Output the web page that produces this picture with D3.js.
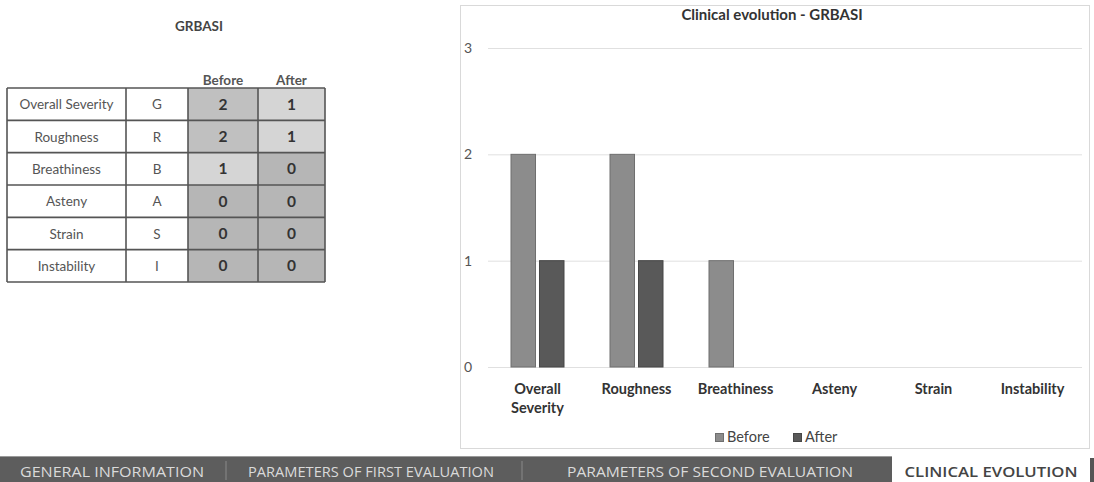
<!DOCTYPE html>
<html><head><meta charset="utf-8">
<script src="https://cdn.jsdelivr.net/npm/d3@7"></script>
<style>
body{margin:0;background:#fff;}
svg{display:block;font-family:Lato,"Open Sans",sans-serif;}
</style></head>
<body><svg id="c" width="1094" height="482"></svg>
<script>
const categories = ["Overall Severity","Roughness","Breathiness","Asteny","Strain","Instability"];
const letters = ["G","R","B","A","S","I"];
const seriesNames = ["Before","After"];
const before = [2,2,1,0,0,0];
const after = [1,1,0,0,0,0];
const yTicks = [0,1,2,3];
const tabs = ["GENERAL INFORMATION","PARAMETERS OF FIRST EVALUATION","PARAMETERS OF SECOND EVALUATION","CLINICAL EVOLUTION"];

const svg = d3.select("#c");

// ---------- Table ----------
svg.append("text").attr("x",199).attr("y",31).attr("text-anchor","middle")
  .attr("font-size",13.5).attr("font-weight","bold").attr("fill","#444").text("GRBASI");
const colX = [7,126,188,258,325];
const rowY = d3.scaleBand().domain(d3.range(categories.length)).range([88,282]);
const cellFill = v => v===2 ? "#c0c0c0" : v===1 ? "#d5d5d5" : "#b6b6b6";
const tg = svg.append("g");
seriesNames.forEach((s,j)=>{
  tg.append("text").attr("x",(colX[2+j]+colX[3+j])/2).attr("y",85).attr("text-anchor","middle")
    .attr("font-size",13.5).attr("font-weight","bold").attr("fill","#555").text(s);
});
categories.forEach((c,i)=>{
  const y = rowY(i), h = rowY.bandwidth();
  const vals = [before[i], after[i]];
  tg.append("rect").attr("x",colX[0]).attr("y",y).attr("width",colX[2]-colX[0]).attr("height",h).attr("fill","#fff");
  vals.forEach((v,j)=>{
    tg.append("rect").attr("x",colX[2+j]).attr("y",y).attr("width",colX[3+j]-colX[2+j]).attr("height",h).attr("fill",cellFill(v));
    tg.append("text").attr("x",(colX[2+j]+colX[3+j])/2).attr("y",y+h/2+5.5).attr("text-anchor","middle")
      .attr("font-size",15.5).attr("font-weight","bold").attr("fill","#333").text(v);
  });
  tg.append("text").attr("x",(colX[0]+colX[1])/2).attr("y",y+h/2+5).attr("text-anchor","middle")
    .attr("font-size",13.5).attr("fill","#555").text(c);
  tg.append("text").attr("x",(colX[1]+colX[2])/2).attr("y",y+h/2+5).attr("text-anchor","middle")
    .attr("font-size",13.5).attr("fill","#555").text(letters[i]);
});
d3.range(categories.length+1).forEach(i=>{
  const y = i<categories.length ? rowY(i) : 282;
  tg.append("line").attr("x1",colX[0]).attr("x2",colX[4]).attr("y1",y).attr("y2",y).attr("stroke","#555").attr("stroke-width",1.6);
});
colX.forEach(x=>{
  tg.append("line").attr("x1",x).attr("x2",x).attr("y1",88).attr("y2",282).attr("stroke","#555").attr("stroke-width",1.6);
});

// ---------- Chart ----------
svg.append("rect").attr("x",460.5).attr("y",5.5).attr("width",629).attr("height",443)
  .attr("fill","#fff").attr("stroke","#d9d9d9");
svg.append("text").attr("x",772).attr("y",20).attr("text-anchor","middle")
  .attr("font-size",15).attr("font-weight","bold").attr("fill","#333").text("Clinical evolution - GRBASI");

const x0 = d3.scaleBand().domain(categories).range([488,1082]);
const y = d3.scaleLinear().domain([0,3]).range([367,48]);
const x1 = d3.scaleBand().domain(seriesNames).range([-26.5,26.5]).paddingInner(0.14);
const colors = {Before:"#8c8c8c", After:"#595959"};
const strokes = {Before:"#6f6f6f", After:"#474747"};

const yAxis = svg.append("g").attr("transform","translate(488,0)")
  .call(d3.axisLeft(y).tickValues(yTicks).tickSize(-594).tickFormat(d3.format("d")));
yAxis.select(".domain").remove();
yAxis.selectAll(".tick line").attr("stroke","#e0e0e0");
yAxis.selectAll(".tick text").attr("x",-20).attr("font-size",14).attr("fill","#555")
  .attr("font-family","Lato,sans-serif").attr("text-anchor","middle");

const data = categories.map((c,i)=>({c, vals:[{s:"Before",v:before[i]},{s:"After",v:after[i]}]}));
const gcat = svg.append("g").selectAll("g").data(data).join("g")
  .attr("transform",d=>`translate(${x0(d.c)+x0.bandwidth()/2},0)`);
gcat.selectAll("rect").data(d=>d.vals.filter(e=>e.v>0)).join("rect")
  .attr("x",e=>x1(e.s)).attr("width",x1.bandwidth())
  .attr("y",e=>y(e.v)).attr("height",e=>y(0)-y(e.v))
  .attr("fill",e=>colors[e.s]).attr("stroke",e=>strokes[e.s]).attr("stroke-width",1);

// x axis labels
const xLabels = {"Overall Severity":["Overall","Severity"]};
const xa = svg.append("g");
categories.forEach(c=>{
  const lines = xLabels[c] || [c];
  const t = xa.append("text").attr("x",x0(c)+x0.bandwidth()/2).attr("y",394).attr("text-anchor","middle")
    .attr("font-size",14.5).attr("font-weight","bold").attr("fill","#333");
  lines.forEach((l,k)=>t.append("tspan").attr("x",x0(c)+x0.bandwidth()/2).attr("dy",k?19:0).text(l));
});

// legend
const leg = svg.append("g");
[["Before",715],["After",793]].forEach(([s,lx])=>{
  leg.append("rect").attr("x",lx+0.5).attr("y",433.5).attr("width",8).attr("height",8).attr("fill",colors[s]).attr("stroke",strokes[s]);
  leg.append("text").attr("x",lx+12).attr("y",442).attr("font-size",14.5).attr("fill","#444").text(s);
});

// ---------- Tab bar ----------
svg.append("rect").attr("x",0).attr("y",456).attr("width",1094).attr("height",26).attr("fill","#5d5d5d");
svg.append("line").attr("x1",0).attr("x2",892).attr("y1",456.5).attr("y2",456.5).attr("stroke","#9a9a9a");
svg.append("rect").attr("x",892).attr("y",456).attr("width",202).attr("height",26).attr("fill","#fff");
svg.append("rect").attr("x",1090).attr("y",458).attr("width",4).attr("height",24).attr("fill","#555");
const tabX = [112, 371, 710, 991];
const tabW = [184, 246, 286, 173];
const sepX = [226, 522];
tabs.forEach((t,i)=>{
  svg.append("text").attr("x",tabX[i]).attr("y",477).attr("text-anchor","middle")
    .attr("font-family","'Open Sans',sans-serif")
    .attr("font-size",14).attr("font-weight",i===3?"600":"normal")
    .attr("textLength",tabW[i]).attr("lengthAdjust","spacingAndGlyphs")
    .attr("fill",i===3?"#444":"#dadada").text(t);
});
sepX.forEach(x=>svg.append("line").attr("x1",x).attr("x2",x).attr("y1",461).attr("y2",480).attr("stroke","#8a8a8a"));
</script></body></html>
